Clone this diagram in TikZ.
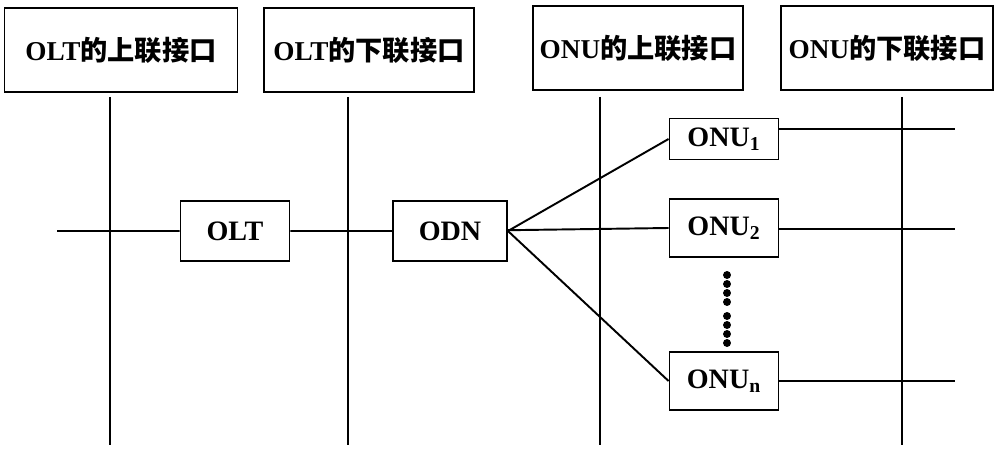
\documentclass[tikz,border=0pt]{standalone}
\usepackage{fontspec}
\setmainfont{Liberation Serif}
\newfontfamily\cjk{Noto Sans CJK SC}
\usetikzlibrary{positioning}
\tikzset{x=0.02cm,y=-0.02cm}

\begin{document}
\begin{tikzpicture}
% Style
[
    line width=1.1pt,
    title box/.style={draw, line width=0.9pt, minimum width=4.2cm, minimum height=1.68cm, font=\fontsize{15.5}{17}\selectfont\bfseries},
    unit box/.style={draw, line width=1.1pt, minimum width=2.18cm, minimum height=1.2cm, font=\fontsize{16}{18}\selectfont\bfseries},
    dot/.style={circle, fill, inner sep=1.6pt}
]
\useasboundingbox (0,0) rectangle (1000,459);

% Draw: Titles
\node [title box, minimum width=4.66cm] (olt up) at (121,50) {OLT{\cjk 的上联接口}};
\node [title box] (olt down) at (369,50) {OLT{\cjk 的下联接口}};
\node [title box] (onu up) at (638,48) {ONU{\cjk 的上联接口}};
\node [title box, minimum width=4.24cm] (onu down) at (887,48) {ONU{\cjk 的下联接口}};

% Draw: Interfaces
\foreach \name/\x in {i1/110, i2/348, i3/600, i4/902} {
    \coordinate (\name top) at (\x,97);
    \coordinate (\name bot) at (\x,445);
    \draw (\name top) -- (\name bot);
}

% Draw: Units
\node [unit box] (olt) at (235,231) {OLT};
\node [unit box, minimum width=2.28cm] (odn) at (450,231) {ODN};
\node [unit box, minimum height=0.82cm] (onu1) at (724,139) {ONU\textsubscript{1}};
\node [unit box, minimum height=1.16cm] (onu2) at (724,228) {ONU\textsubscript{2}};
\node [unit box, minimum height=1.16cm] (onun) at (724,381) {ONU\textsubscript{n}};

% Draw: Links
\coordinate (in) at (57,231);
\draw (in) -- (olt) -- (odn) -- (onu2.west);
\draw (odn.east) -- (onu1.west);
\draw (odn.east) -- (onun.west);
\foreach \name/\y in {onu1/129, onu2/229, onun/381} {
    \coordinate (\name out) at (955,\y);
    \draw (\name.east |- \name out) -- (\name out);
}

% Draw: Dots
\foreach \y in {275,284,293,302,316,325,334,343} {
    \node [dot] (d\y) at (727,\y) {};
}
\end{tikzpicture}
\end{document}
